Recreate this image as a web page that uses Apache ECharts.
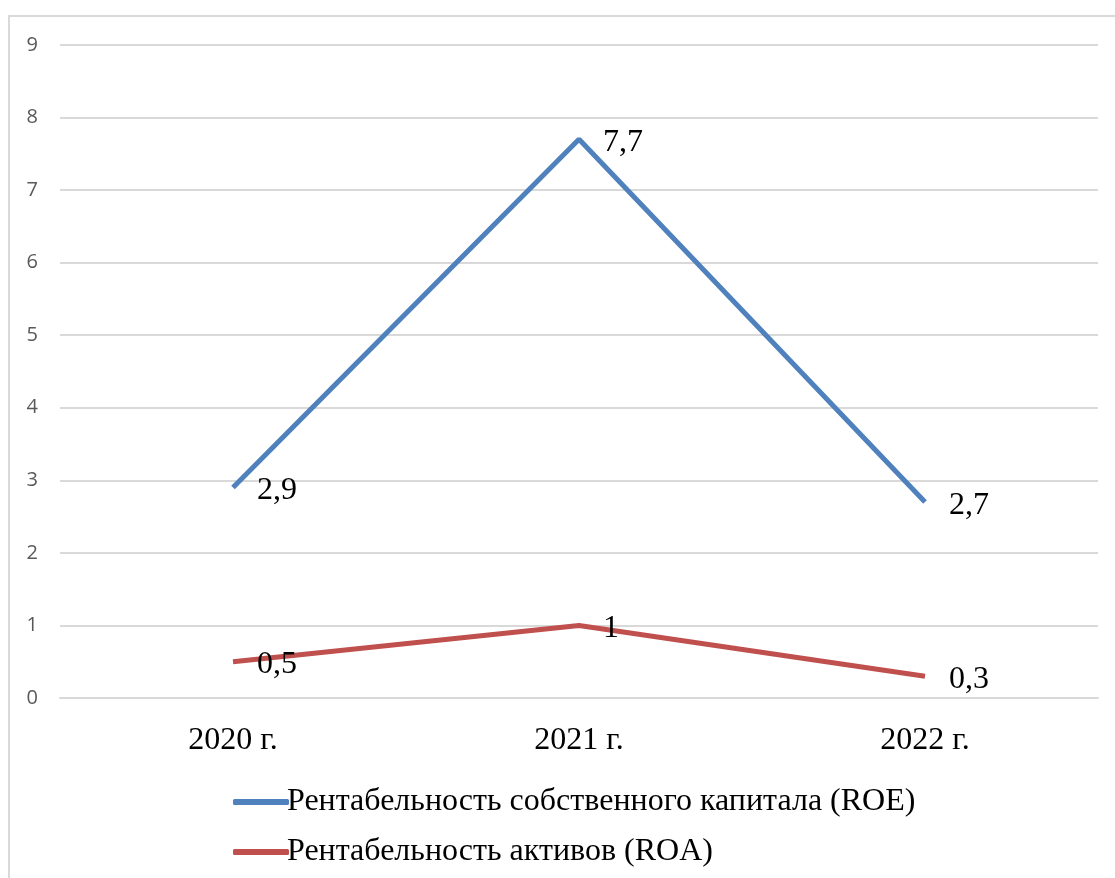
<!DOCTYPE html>
<html>
<head>
<meta charset="utf-8">
<style>
  html, body { margin: 0; padding: 0; background: #fff; }
  #container { width: 1115px; height: 878px; }
</style>
<script src="https://cdn.jsdelivr.net/npm/echarts@6/dist/echarts.min.js"></script>
</head>
<body>
<div id="container"></div>
<script>
// Data
var years = ['2020 г.', '2021 г.', '2022 г.'];
var roeValues = [2.9, 7.7, 2.7];
var roaValues = [0.5, 1, 0.3];
var seriesNames = ['Рентабельность собственного капитала (ROE)', 'Рентабельность активов (ROA)'];

var serif = '"Liberation Serif", "Times New Roman", serif';

function commaLabel(p) {
    return String(p.value).replace('.', ',');
}

var myChart = echarts.init(document.getElementById('container'));
var option = {
    animation: false,
    backgroundColor: '#fff',
    graphic: [{
        type: 'rect',
        shape: { x: 9, y: 16, width: 1130, height: 900 },
        style: { fill: 'none', stroke: '#d9d9d9', lineWidth: 2 },
        silent: true
    }],
    grid: { left: 60, right: 17, top: 45, bottom: 180 },
    legend: {
        orient: 'vertical',
        left: 228,
        top: 781,
        itemWidth: 56,
        itemHeight: 6,
        itemGap: 18,
        icon: 'roundRect',
        textStyle: { fontFamily: serif, fontSize: 32, lineHeight: 32, color: '#000', padding: [0, 0, 0, -7] },
        data: seriesNames
    },
    xAxis: {
        type: 'category',
        data: years,
        axisLine: { lineStyle: { color: '#d9d9d9', width: 2 } },
        axisTick: { show: false },
        axisLabel: { fontFamily: serif, fontSize: 32, color: '#000', margin: 27 }
    },
    yAxis: {
        type: 'value',
        min: 0,
        max: 9,
        interval: 1,
        axisLine: { show: false },
        axisTick: { show: false },
        splitLine: { lineStyle: { color: '#d9d9d9', width: 2 } },
        axisLabel: { fontFamily: '"Open Sans", "Noto Sans", sans-serif', fontSize: 20, color: '#595959', margin: 22 }
    },
    series: [
        {
            name: seriesNames[0],
            type: 'line',
            data: roeValues,
            symbol: 'circle',
            symbolSize: 0.1,
            lineStyle: { width: 5, color: '#4f81bd' },
            itemStyle: { color: '#4f81bd' },
            label: {
                show: true, position: 'right', distance: 24, offset: [0, 3],
                fontFamily: serif, fontSize: 32, color: '#000', formatter: commaLabel
            }
        },
        {
            name: seriesNames[1],
            type: 'line',
            data: roaValues,
            symbol: 'circle',
            symbolSize: 0.1,
            lineStyle: { width: 5, color: '#c0504d' },
            itemStyle: { color: '#c0504d' },
            label: {
                show: true, position: 'right', distance: 24, offset: [0, 3],
                fontFamily: serif, fontSize: 32, color: '#000', formatter: commaLabel
            }
        }
    ]
};
myChart.setOption(option);
</script>
</body>
</html>
